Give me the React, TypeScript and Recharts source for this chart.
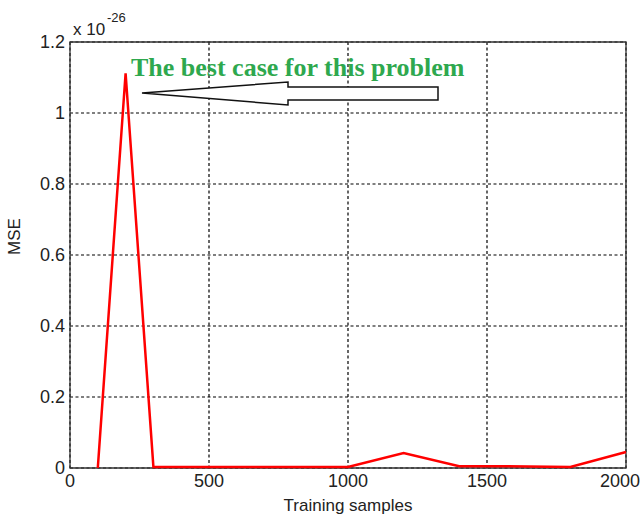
import React from "react";
import { LineChart, Line, XAxis, YAxis, CartesianGrid, ReferenceArea } from "recharts";

const samples = [100, 200, 300, 1000, 1200, 1400, 1550, 1800, 2000];
const mse = [0, 1.112, 0.003, 0.003, 0.042, 0.005, 0.005, 0.003, 0.045];
const xTicks = [0, 500, 1000, 1500, 2000];
const yTicks = [0, 0.2, 0.4, 0.6, 0.8, 1, 1.2];
const annotationText = "The best case for this problem";
const xLabel = "Training samples";
const yLabel = "MSE";

const data = samples.map((s, i) => ({ s, v: mse[i] }));

const font = "'Liberation Sans', Arial, sans-serif";

function XTick(props: any) {
  const { x, y, payload } = props;
  const isLast = payload.value === xTicks[xTicks.length - 1];
  return (
    <text
      x={isLast ? 640 : x}
      y={y}
      dy="0.71em"
      textAnchor={isLast ? "end" : "middle"}
      fill="#222"
      fontSize={18}
      fontFamily={font}
    >
      {payload.value}
    </text>
  );
}

export default function App() {
  return (
    <div style={{ position: "absolute", left: 0, top: 0, width: 642, height: 519, background: "#fff" }}>
      <LineChart
        width={642}
        height={519}
        data={data}
        margin={{ top: 42, right: 16, left: 0, bottom: 0 }}
      >
        <CartesianGrid
          stroke="#000"
          strokeDasharray="3 2.5"
          strokeWidth={1.2}
          horizontalValues={yTicks}
          verticalValues={xTicks}
        />
        <XAxis
          dataKey="s"
          type="number"
          domain={[0, 2000]}
          ticks={xTicks}
          height={51}
          axisLine={false}
          tickLine={false}
          tickSize={0}
          tickMargin={6}
          tick={<XTick />}
          label={{ value: xLabel, position: "insideBottom", offset: 8, fill: "#222", fontSize: 17, fontFamily: font }}
        />
        <YAxis
          type="number"
          domain={[0, 1.2]}
          ticks={yTicks}
          width={70}
          axisLine={false}
          tickLine={false}
          tickSize={0}
          tickMargin={5}
          tick={{ fill: "#222", fontSize: 18, fontFamily: font }}
          label={{ value: yLabel, angle: -90, position: "insideLeft", offset: 14, fill: "#222", fontSize: 17, fontFamily: font }}
        />
        <ReferenceArea x1={0} x2={2000} y1={0} y2={1.2} fill="none" stroke="#333" strokeWidth={1.3} ifOverflow="visible" />
        <Line
          type="linear"
          dataKey="v"
          stroke="#ff0000"
          strokeWidth={2.5}
          dot={false}
          isAnimationActive={false}
        />
      </LineChart>
      <svg width={642} height={519} style={{ position: "absolute", left: 0, top: 0, pointerEvents: "none" }}>
        <text x={73} y={35} fontFamily={font} fontSize={17} fill="#222">x 10</text>
        <text x={107} y={22} fontFamily={font} fontSize={13} fill="#222">-26</text>
        <text
          x={131}
          y={76}
          fontFamily="'Liberation Serif', 'Times New Roman', serif"
          fontWeight="bold"
          fontSize={26}
          fill="#2ea84e"
        >
          {annotationText}
        </text>
        <path
          d="M142,93 L288,82 L288,87 L438,87 L438,100 L288,100 L288,105 Z"
          fill="#fff"
          stroke="#111"
          strokeWidth={1.5}
        />
      </svg>
    </div>
  );
}
